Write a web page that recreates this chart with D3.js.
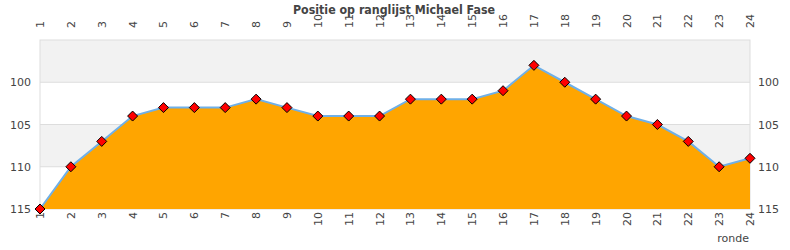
<!DOCTYPE html>
<html>
<head>
<meta charset="utf-8">
<script src="https://cdn.jsdelivr.net/npm/d3@7"></script>
<style>
  body { margin: 0; background: #fff; }
  text { font-family: 'DejaVu Sans', sans-serif; }
</style>
</head>
<body>
<div id="chart"></div>
<script>
// rounds and rank per round
const rounds = d3.range(1, 25);
const ranks = [115, 110, 107, 104, 103, 103, 103, 102, 103, 104, 104, 104,
               102, 102, 102, 101, 98, 100, 102, 104, 105, 107, 110, 109];
const yTicks = [100, 105, 110, 115];
const bands = [[95, 100], [105, 110]];

const width = 790, height = 250;
const margin = { top: 40, right: 40, bottom: 41, left: 40 };

const svg = d3.select('#chart').append('svg')
    .attr('width', width)
    .attr('height', height);

const x = d3.scaleLinear()
    .domain([1, 24])
    .range([margin.left, width - margin.right]);

const y = d3.scaleLinear()
    .domain([95, 115])
    .range([margin.top, height - margin.bottom]);

// background bands
svg.selectAll('.band')
    .data(bands)
    .enter().append('rect')
    .attr('x', x(1))
    .attr('width', x(24) - x(1))
    .attr('y', d => y(d[0]))
    .attr('height', d => y(d[1]) - y(d[0]))
    .attr('fill', '#f2f2f2');

// gridlines
svg.selectAll('.grid')
    .data(yTicks.filter(d => d < 115))
    .enter().append('line')
    .attr('x1', x(1)).attr('x2', x(24))
    .attr('y1', d => y(d)).attr('y2', d => y(d))
    .attr('stroke', '#dddddd');

// plot border
svg.append('rect')
    .attr('x', x(1)).attr('y', y(95))
    .attr('width', x(24) - x(1))
    .attr('height', y(115) - y(95))
    .attr('fill', 'none')
    .attr('stroke', '#dddddd');

const pts = rounds.map((r, i) => ({ r: r, v: ranks[i] }));

const area = d3.area()
    .x(d => x(d.r))
    .y0(y(115))
    .y1(d => y(d.v));

svg.append('path')
    .datum(pts)
    .attr('d', area)
    .attr('fill', '#ffa500');

const line = d3.line()
    .x(d => x(d.r))
    .y(d => y(d.v));

svg.append('path')
    .datum(pts)
    .attr('d', line)
    .attr('fill', 'none')
    .attr('stroke', '#6fb0e8')
    .attr('stroke-width', 2);

// diamond markers
const s = 5;
svg.selectAll('.marker')
    .data(pts)
    .enter().append('path')
    .attr('d', d => {
        const cx = x(d.r), cy = y(d.v);
        return `M${cx},${cy - s}L${cx + s},${cy}L${cx},${cy + s}L${cx - s},${cy}Z`;
    })
    .attr('fill', '#ff0000')
    .attr('stroke', '#000')
    .attr('stroke-linejoin', 'round')
    .attr('stroke-width', 1);

// x labels, top and bottom, rotated
const xLab = svg.append('g');
rounds.forEach(r => {
    xLab.append('text')
        .attr('transform', `translate(${x(r) + 4},${28}) rotate(-90)`)
        .attr('text-anchor', 'start')
        .attr('font-size', 11)
        .attr('fill', '#444')
        .text(r);
    xLab.append('text')
        .attr('transform', `translate(${x(r) + 4},${212}) rotate(-90)`)
        .attr('text-anchor', 'end')
        .attr('font-size', 11)
        .attr('fill', '#444')
        .text(r);
});

// y labels left and right
svg.selectAll('.ylabL')
    .data(yTicks)
    .enter().append('text')
    .attr('x', 31)
    .attr('y', d => y(d) + 4)
    .attr('text-anchor', 'end')
    .attr('font-size', 11)
    .attr('fill', '#444')
    .text(d => d);

svg.selectAll('.ylabR')
    .data(yTicks)
    .enter().append('text')
    .attr('x', 758)
    .attr('y', d => y(d) + 4)
    .attr('text-anchor', 'start')
    .attr('font-size', 11)
    .attr('fill', '#444')
    .text(d => d);

// title
svg.append('text')
    .attr('x', 394)
    .attr('y', 14)
    .attr('text-anchor', 'middle')
    .attr('font-size', 12)
    .attr('font-weight', 'bold')
    .attr('textLength', 202)
    .attr('lengthAdjust', 'spacingAndGlyphs')
    .attr('fill', '#444')
    .text('Positie op ranglijst Michael Fase');

svg.append('text')
    .attr('x', 749)
    .attr('y', 242)
    .attr('text-anchor', 'end')
    .attr('font-size', 11)
    .attr('fill', '#444')
    .text('ronde');
</script>
</body>
</html>
